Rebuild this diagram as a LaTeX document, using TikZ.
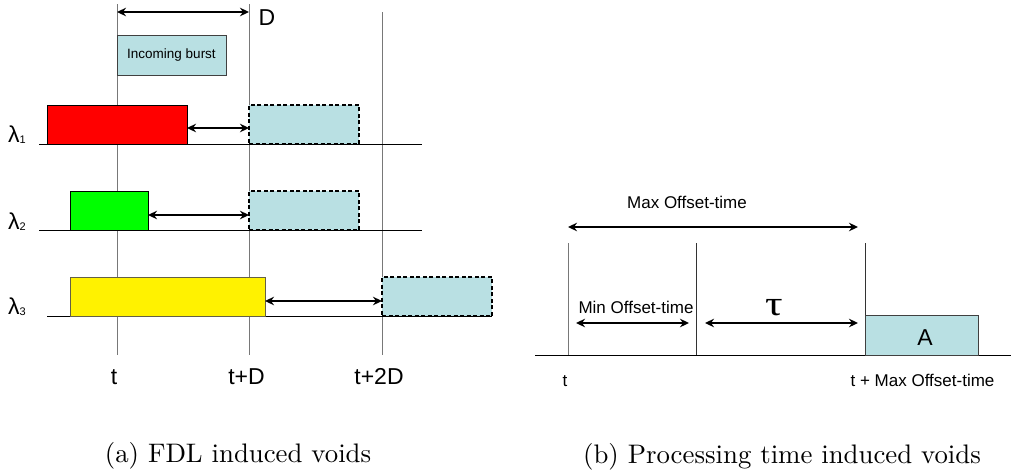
\documentclass[tikz,border=0pt]{standalone}
\usepackage{fontspec}
\newfontfamily\arialf{Liberation Sans}
\newfontfamily\serifg{Liberation Serif}
\newfontfamily\capf{lmroman10-regular}[Extension=.otf]
\usetikzlibrary{arrows.meta}
\definecolor{burstblue}{RGB}{185,224,227}
\definecolor{vgray}{RGB}{120,120,120}
\begin{document}
\begin{tikzpicture}[x=1pt,y=-1pt,
  box/.style={draw, inner sep=0pt, outer sep=0pt, anchor=north west, line width=0.8pt},
  burst/.style={box, fill=burstblue, draw=black!75},
  ghost/.style={box, fill=burstblue, dash pattern=on 4pt off 2.5pt, line width=1.6pt},
  darr/.style={{Stealth[length=9pt,width=8.5pt]}-{Stealth[length=9pt,width=8.5pt]}, line width=2.1pt},
  vline/.style={draw=vgray, line width=0.9pt},
  vlined/.style={draw=black!80, line width=0.8pt},
  base/.style={draw=black, line width=0.8pt},
  lab/.style={font=\arialf\fontsize{23}{26}\selectfont, inner sep=0pt, anchor=base},
  slab/.style={font=\arialf\fontsize{17}{20}\selectfont, inner sep=0pt, anchor=base},
  lam/.style={font=\arialf\fontsize{23}{25}\selectfont, inner sep=0pt, anchor=base west},
  captext/.style={font=\capf\fontsize{26.8}{30}\selectfont, inner sep=0pt, anchor=base},
]
\useasboundingbox (0,0) rectangle (1011,471);

% ---------- (a) FDL induced voids ----------
\coordinate (tT) at (117,4);   \coordinate (tB) at (117,355);
\coordinate (dT) at (249,4);   \coordinate (dB) at (249,355);
\coordinate (ddT) at (382,12); \coordinate (ddB) at (382,355);
\draw[vline] (tT) -- (tB);
\draw[vline] (dT) -- (dB);
\draw[vline] (ddT) -- (ddB);

\coordinate (b1L) at (39,144);  \coordinate (b1R) at (422,144);
\coordinate (b2L) at (39,230);  \coordinate (b2R) at (422,230);
\coordinate (b3L) at (47,316);  \coordinate (b3R) at (492,316);
\draw[base] (b1L) -- (b1R);
\draw[base] (b2L) -- (b2R);
\draw[base] (b3L) -- (b3R);

\coordinate (dA) at (117,12); \coordinate (dZ) at (249,12);
\draw[darr] (dA) -- (dZ);
\node[lab] (Dlab) at (267,25) {D};

\node[burst, minimum width=109pt, minimum height=40pt,
      font=\arialf\fontsize{13.5}{15}\selectfont] (inb) at (117,35) {Incoming burst};

\node[box, fill=red, minimum width=140pt, minimum height=39pt] (red) at (47,105) {};
\node[ghost, minimum width=110pt, minimum height=39pt] (g1) at (249,105) {};
\draw[darr] ([yshift=-3.5pt]red.east) -- ([yshift=-3.5pt]g1.west);

\node[box, fill=green, minimum width=78pt, minimum height=39pt] (grn) at (70,191) {};
\node[ghost, minimum width=110pt, minimum height=39pt] (g2) at (249,191) {};
\draw[darr] ([yshift=-4.5pt]grn.east) -- ([yshift=-4.5pt]g2.west);

\node[box, fill=yellow, draw=black!70!yellow, minimum width=195pt, minimum height=39pt] (yel) at (70,277) {};
\node[ghost, minimum width=110pt, minimum height=39pt] (g3) at (382,277) {};
\draw[darr] ([yshift=-4.5pt]yel.east) -- ([yshift=-4.5pt]g3.west);

\node[lam] (l1) at (8,142) {λ\raisebox{-1pt}{\fontsize{11}{12}\selectfont 1}};
\node[lam] (l2) at (8,229) {λ\raisebox{-1pt}{\fontsize{11}{12}\selectfont 2}};
\node[lam] (l3) at (8,314) {λ\raisebox{-1pt}{\fontsize{11}{12}\selectfont 3}};

\node[lab] (tl) at (114,384) {t};
\node[lab] (tdl) at (246.5,384) {t+D};
\node[lab] (tddl) at (379,384) {t+2D};

\node[captext] (capa) at (238,462) {(a) FDL induced voids};

% ---------- (b) Processing time induced voids ----------
\coordinate (rbL) at (535,355); \coordinate (rbR) at (1011,355);
\draw[base] (rbL) -- (rbR);
\coordinate (v1T) at (568,243); \coordinate (v1B) at (568,355);
\coordinate (v2T) at (696,243); \coordinate (v2B) at (696,355);
\coordinate (v3T) at (865,243); \coordinate (v3B) at (865,355);
\draw[vline] (v1T) -- (v1B);
\draw[vlined] (v2T) -- (v2B);
\draw[vlined] (v3T) -- (v3B);

\coordinate (mxA) at (568,227); \coordinate (mxZ) at (858,227);
\draw[darr] (mxA) -- (mxZ);
\node[slab] (mxl) at (687,208) {Max Offset-time};

\coordinate (mnA) at (576,323); \coordinate (mnZ) at (689,323);
\draw[darr] (mnA) -- (mnZ);
\node[slab] (mnl) at (636,313) {Min Offset-time};

\coordinate (taA) at (705,323); \coordinate (taZ) at (858,323);
\draw[darr] (taA) -- (taZ);
\node[font=\serifg\fontsize{35}{37}\selectfont, inner sep=0pt, anchor=base] (tau) at (774,315) {\scalebox{1.25}[1]{τ}};

\node[burst, minimum width=113pt, minimum height=40pt] (A) at (865,315) {};
\node[lab] (Alab) at (925,345) {A};

\node[slab] (tr) at (565,386) {t};
\node[slab] (tmr) at (922.5,386) {t + Max Offset-time};

\node[captext] (capb) at (782,463) {(b) Processing time induced voids};
\end{tikzpicture}
\end{document}
